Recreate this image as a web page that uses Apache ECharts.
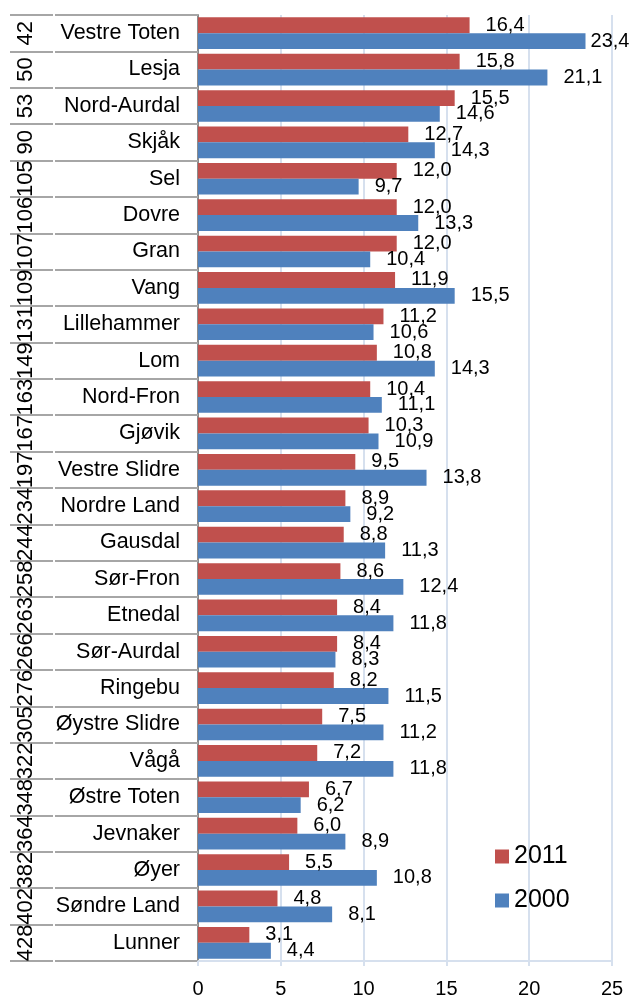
<!DOCTYPE html>
<html>
<head>
<meta charset="utf-8">
<script src="https://cdn.jsdelivr.net/npm/echarts@6/dist/echarts.min.js"></script>
<style>html,body{margin:0;padding:0;background:#fff;}#c{width:632px;height:999px;}</style>
</head>
<body>
<div id="c"></div>
<script>
const ranks = ['42','50','53','90','105','106','107','109','131','149','163','167','197','234','244','258','263','266','276','305','322','348','364','382','402','428'];
const names = ['Vestre Toten','Lesja','Nord-Aurdal','Skjåk','Sel','Dovre','Gran','Vang','Lillehammer','Lom','Nord-Fron','Gjøvik','Vestre Slidre','Nordre Land','Gausdal','Sør-Fron','Etnedal','Sør-Aurdal','Ringebu','Øystre Slidre','Vågå','Østre Toten','Jevnaker','Øyer','Søndre Land','Lunner'];
const values2011 = [16.4,15.8,15.5,12.7,12.0,12.0,12.0,11.9,11.2,10.8,10.4,10.3,9.5,8.9,8.8,8.6,8.4,8.4,8.2,7.5,7.2,6.7,6.0,5.5,4.8,3.1];
const values2000 = [23.4,21.1,14.6,14.3,9.7,13.3,10.4,15.5,10.6,14.3,11.1,10.9,13.8,9.2,11.3,12.4,11.8,8.3,11.5,11.2,11.8,6.2,8.9,10.8,8.1,4.4];
const xTicks = [0,5,10,15,20,25];

const FONT = 'Liberation Sans';
const fmt = v => v.toFixed(1).replace('.', ',');
const chart = echarts.init(document.getElementById('c'), null, {renderer:'canvas'});

function labelCfg(){
  return {show:true, position:'right', distance:16, color:'#000', fontFamily:FONT, fontSize:20,
    formatter: p => fmt(p.value)};
}
const data2000 = values2000.map((v,i) => {
  // the largest bar's label sits closer to the bar end (chart edge)
  if (v > 22) return {value:v, label:{distance:5}};
  return v;
});

chart.setOption({
  animation:false,
  backgroundColor:'#fff',
  textStyle:{fontFamily:FONT},
  grid:{left:198, right:20, top:15, bottom:36, containLabel:false},
  legend:{
    orient:'vertical', left:495, top:844, padding:0, itemWidth:14, itemHeight:14, itemGap:19,
    icon:'rect', textStyle:{fontSize:25, fontFamily:FONT, color:'#000'},
    data:['2011','2000']
  },
  xAxis:{
    type:'value', min:0, max:25, interval:5,
    axisLine:{show:true, lineStyle:{color:'#d6e0ee', width:2}},
    axisTick:{show:true, length:5, lineStyle:{color:'#d6e0ee', width:2}},
    splitLine:{show:true, lineStyle:{color:'#d6e0ee', width:2}},
    axisLabel:{fontSize:20, color:'#000', margin:18, fontFamily:FONT,
      formatter: v => xTicks.includes(v) ? String(v) : ''}
  },
  yAxis:[
    {
      type:'category', data:names, inverse:true, position:'left',
      axisLine:{show:true, lineStyle:{color:'#8c8c8c', width:2}},
      axisTick:{show:true, interval:0, length:143, lineStyle:{color:'#a6a6a6', width:2}},
      axisLabel:{interval:0, fontSize:21.5, color:'#000', margin:18, fontFamily:FONT},
      splitLine:{show:false}
    },
    {
      type:'category', data:ranks, inverse:true, position:'left', offset:145,
      axisLine:{show:false},
      axisTick:{show:true, interval:0, length:43, lineStyle:{color:'#a6a6a6', width:2}},
      axisLabel:{interval:0, fontSize:22, color:'#000', margin:16, rotate:90, fontFamily:FONT,
        hideOverlap:false},
      splitLine:{show:false}
    }
  ],
  series:[
    {name:'2011', type:'bar', yAxisIndex:0, data:values2011, barGap:'0%', barCategoryGap:'13%',
      itemStyle:{color:'#C0504D'}, label:labelCfg()},
    {name:'2000', type:'bar', yAxisIndex:0, data:data2000, barGap:'0%', barCategoryGap:'13%',
      itemStyle:{color:'#4F81BD'}, label:labelCfg()}
  ]
});
</script>
</body>
</html>
